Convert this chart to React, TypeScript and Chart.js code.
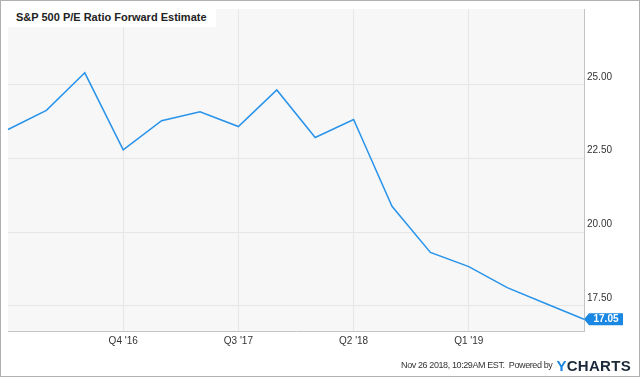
import React, { useEffect, useRef } from "react";
import { Chart, registerables } from "chart.js";

Chart.register(...registerables);

const quarters = [
  "Q1 '16", "Q2 '16", "Q3 '16", "Q4 '16",
  "Q1 '17", "Q2 '17", "Q3 '17", "Q4 '17",
  "Q1 '18", "Q2 '18", "Q3 '18", "Q4 '18",
  "Q1 '19", "Q2 '19", "Q3 '19", "Q4 '19",
];
const peValues = [
  23.47, 24.12, 25.39, 22.78,
  23.77, 24.07, 23.57, 24.81,
  23.2, 23.81, 20.87, 19.31,
  18.83, 18.12, 17.58, 17.05,
];
const shownXLabels = ["Q4 '16", "Q3 '17", "Q2 '18", "Q1 '19"];
const yTicks = [17.5, 20, 22.5, 25];
const lastLabel = "17.05";

const FONT = "'Liberation Sans', Arial, Helvetica, sans-serif";
const LINE = "#2893ea";
const TAG = "#1a87e3";

const bgPlugin = {
  id: "plotBg",
  beforeDraw(chart: any) {
    const { ctx, chartArea } = chart;
    ctx.save();
    ctx.fillStyle = "#f7f7f7";
    ctx.fillRect(chartArea.left, chartArea.top, chartArea.right - chartArea.left, chartArea.bottom - chartArea.top);
    ctx.restore();
  },
};

const tagPlugin = {
  id: "endTag",
  afterDatasetsDraw(chart: any) {
    const meta = chart.getDatasetMeta(0);
    const pt = meta.data[meta.data.length - 1];
    if (!pt) return;
    const { ctx } = chart;
    const x = pt.x;
    const y = pt.y;
    ctx.save();
    ctx.fillStyle = TAG;
    ctx.beginPath();
    ctx.moveTo(x, y);
    ctx.lineTo(x + 5, y - 6);
    ctx.lineTo(x + 39, y - 6);
    ctx.lineTo(x + 39, y + 6);
    ctx.lineTo(x + 5, y + 6);
    ctx.closePath();
    ctx.fill();
    ctx.fillStyle = "#ffffff";
    ctx.font = `bold 10px ${FONT}`;
    ctx.textAlign = "center";
    ctx.textBaseline = "middle";
    ctx.fillText(lastLabel, x + 22, y + 0.5);
    ctx.restore();
  },
};

export default function App() {
  const ref = useRef<HTMLCanvasElement | null>(null);

  useEffect(() => {
    document.body.style.margin = "0";
    if (!ref.current) return;
    const chart = new Chart(ref.current, {
      type: "line",
      data: {
        labels: quarters,
        datasets: [
          {
            data: peValues,
            borderColor: LINE,
            borderWidth: 1.5,
            pointRadius: 0,
            tension: 0,
            fill: false,
          },
        ],
      },
      options: {
        animation: false,
        responsive: false,
        devicePixelRatio: 1,
        layout: { padding: { left: 8, top: 7, right: 0, bottom: 0 } },
        plugins: {
          legend: { display: false },
          tooltip: { enabled: false },
          title: { display: false },
        },
        scales: {
          x: {
            type: "category",
            offset: false,
            border: { display: true, color: "#c4c4c4", width: 1 },
            grid: {
              drawTicks: false,
              color: (c: any) =>
                c.tick && shownXLabels.includes(quarters[c.index]) ? "#e6e6e6" : "rgba(0,0,0,0)",
              lineWidth: 1,
            },
            ticks: {
              autoSkip: false,
              maxRotation: 0,
              padding: 4,
              color: "#333333",
              font: { family: FONT, size: 10 },
              callback: (_v: any, i: number) => (shownXLabels.includes(quarters[i]) ? quarters[i] : ""),
            },
            afterFit: (s: any) => {
              s.height = 46;
            },
          },
          y: {
            position: "right",
            min: 16.65,
            max: 27.55,
            border: { display: true, color: "#c4c4c4", width: 1 },
            grid: { drawTicks: false, color: "#e6e6e6", lineWidth: 1 },
            afterBuildTicks: (s: any) => {
              s.ticks = yTicks.map((v) => ({ value: v }));
            },
            ticks: {
              padding: 3,
              labelOffset: -7.5,
              color: "#333333",
              font: { family: FONT, size: 10 },
              callback: (v: any) => Number(v).toFixed(2),
            },
            afterFit: (s: any) => {
              s.width = 56;
            },
          },
        },
      },
      plugins: [bgPlugin, tagPlugin],
    });
    return () => chart.destroy();
  }, []);

  return (
    <div
      style={{
        position: "absolute",
        left: 0,
        top: 0,
        width: 640,
        height: 377,
        background: "#ffffff",
        fontFamily: FONT,
      }}
    >
      <canvas ref={ref} width={640} height={377} style={{ position: "absolute", left: 0, top: 0, width: 640, height: 377 }} />
      <div
        style={{
          position: "absolute",
          left: 7,
          top: 7,
          width: 209,
          height: 20,
          background: "#ffffff",
          boxSizing: "border-box",
          paddingLeft: 9,
          fontWeight: "bold",
          fontSize: 11,
          lineHeight: "20px",
          color: "#222222",
          whiteSpace: "nowrap",
        }}
      >
        S&amp;P 500 P/E Ratio Forward Estimate
      </div>
      <div
        style={{
          position: "absolute",
          right: 9,
          top: 356,
          height: 18,
          display: "flex",
          alignItems: "center",
          whiteSpace: "nowrap",
        }}
      >
        <span style={{ fontSize: 9, color: "#333333", letterSpacing: "-0.4px" }}>
          Nov 26 2018, 10:29AM EST.&nbsp; Powered by
        </span>
        <span style={{ fontSize: 15, fontWeight: "bold", marginLeft: 4, letterSpacing: "0.3px", color: "#1b2a3a" }}>
          <span style={{ color: "#1a87e3" }}>Y</span>CHARTS
        </span>
      </div>
      <div
        style={{
          position: "absolute",
          left: 0,
          top: 0,
          width: 640,
          height: 377,
          boxSizing: "border-box",
          border: "1px solid #b0b0b0",
          pointerEvents: "none",
        }}
      />
    </div>
  );
}
